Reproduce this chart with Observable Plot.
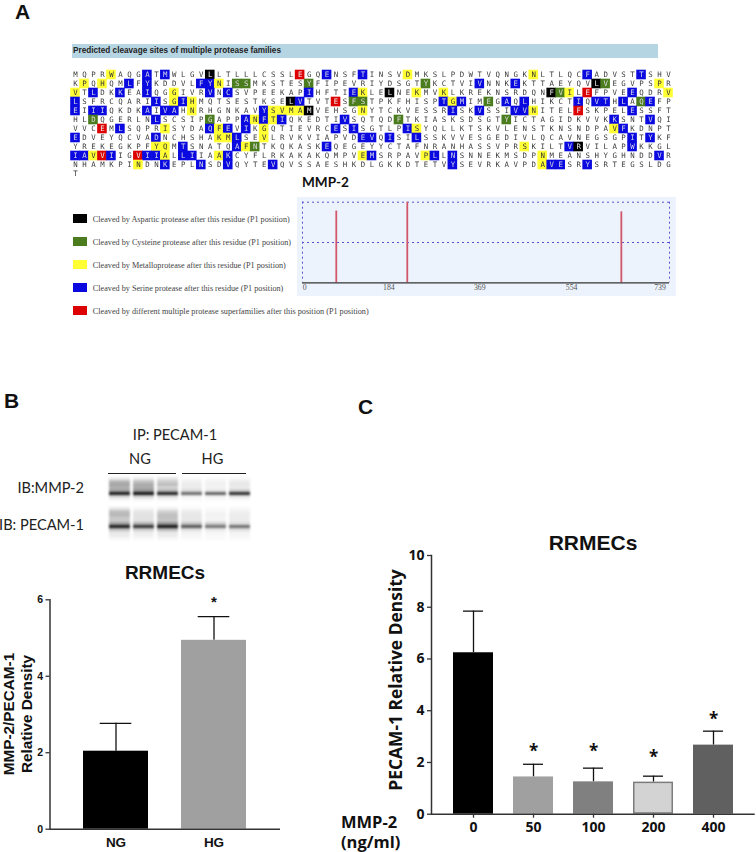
<!DOCTYPE html>
<html><head><meta charset="utf-8">
<script src="https://cdn.jsdelivr.net/npm/d3@7"></script>
<script src="https://cdn.jsdelivr.net/npm/@observablehq/plot@0.6"></script>
<style>
html,body{margin:0;padding:0;background:#fff}
#page{position:relative;width:756px;height:852px;overflow:hidden;background:#fff}
#page svg{position:absolute;background:transparent;overflow:visible}
.t{position:absolute;white-space:nowrap;line-height:1}
</style></head><body><div id="page"></div>
<script>
// ---- Panel A: sequence
const sequenceRows = [
"MQPRWAQGATMWLGVLLTLLLCSSLEGQENSFTINSVDMKSLPDWTVQNGKNLTLQCFADVSTTSHV",
"KPQHQMLFYKDDVLFYNISSMKSTESYFIPEVRIYDSGTYKCTVIVNNKEKTTAEYQVLVEGVPSPR",
"VTLDKKEAIQGGIVRVNCSVPEEKAPIHFTIEKLELNEKMVKLKREKNSRDQNFVILEFPVEEQDRV",
"LSFRCQARIISGIHMQTSESTKSELVTVTESFSTPKFHISPTGMIMEGAQLHIKCTIQVTHLAQEFP",
"EIIIQKDKAIVAHNRHGNKAVYSVMAMVEHSGNYTCKVESSRISKVSSIVVNITELFSKPELESSFT",
"HLDQGERLNLSCSIPGAPPANFTIQKEDTIVSQTQDFTKIASKSDSGTYICTAGIDKVVKKSNTVQI",
"VVCEMLSQPRISYDAQFEVIKGQTIEVRCESISGTLPISYQLLKTSKVLENSTKNSNDPAVFKDNPT",
"EDVEYQCVADNCHSHAKMLSEVLRVKVIAPVDEVQISILSSKVVESGEDIVLQCAVNEGSGPITYKF",
"YREKEGKPFYQMTSNATQAFNTKQKASKEQEGEYYCTAFNRANHASSVPRSKILTVRVILAPWKKGL",
"IAVVIIGVIIALLIIAAKCYFLRKAKAKQMPVEMSRPAVPLLNSNNEKMSDPNMEANSHYGHNDDVR",
"NHAMKPINDNKEPLNSDVQYTEVQVSSAESHKDLGKKDTETVYSEVRKAVPDAVESRYSRTEGSLDG",
"T"];
// cleaved residues per row, by protease family
const aspartic = [[15],[58],[35,53],[24],[26],[],[],[],[56],[],[],[]];
const cysteine = [[],[18,19,26,39,59],[54],[31,32,46,63],[],[2,15,36,48],[],[],[20],[],[],[]];
const metallo  = [[4,37,51],[1,3,16,65],[0,11,32,38,41,55,66],[11,13,42],[13,22,23,24,25,32,51],[20,22],[10,16,21,38,60],[16,17,21],[9,10,19,50],[2,10,16,32,39,52],[7,52],[]];
const serine   = [[8,10,28,32,57,63],[6,8,14,15,45,49],[2,5,8,15,17,26,31,62],[0,9,12,25,41,43,48,50,56,58,59,61,64],[0,2,3,8,10,11,21,42,45,49,50,62],[9,19,21,23,30,60,64],[5,15,17,19,29,31,37,61],[0,9,18,32,33,35,38,62,64],[12,18,28,55,62],[0,1,4,8,9,12,13,17,33,40,42,65],[10,14,17,22,42,53,54,57],[]];
const multiple = [[25],[],[57],[29],[56],[],[3],[],[],[3,7],[],[]];

const familyNames = ["Aspartic","Cysteine","Metallo","Serine","Multiple"];
const familyHits = [aspartic,cysteine,metallo,serine,multiple];
const familyColors = ["#000000","#4b7d1e","#ffff33","#0a0ae0","#dc0000"];
const familyInk = ["#eeeeee","#dddddd","#333333","#d8d8e8","#eeeeee"];
const legendLabels = [
"Cleaved by Aspartic protease after this residue (P1 position)",
"Cleaved by Cysteine protease after this residue (P1 position)",
"Cleaved by Metalloprotease after this residue (P1 position)",
"Cleaved by Serine protease after this residue (P1 position)",
"Cleaved by different multiple protease superfamilies after this position (P1 position)"];

// ---- Panel A: MMP-2 lane
const siteResidues = [68,211,642];
const siteHeights = [1.78,2,1.76];
const laneTicks = [0,184,369,554,739];

// ---- Panel B: blots
const laneIds = [1,2,3,4,5,6];
const blotMMP2 = [
[.08,.08,.10,.02,.02,.03],
[.30,.25,.20,.06,.05,.08],
[.38,.35,.28,.08,.06,.10],
[.32,.35,.18,.08,.05,.08],
[.40,.45,.30,.15,.10,.20],
[.95,.98,.92,.62,.65,.88],
[.18,.20,.15,.06,.06,.12],
[.04,.04,.04,.02,.02,.02]];
const blotPECAM = [
[.10,.04,.06,.03,.02,.03],
[.26,.10,.18,.08,.04,.06],
[.30,.12,.26,.10,.06,.08],
[.24,.12,.26,.10,.05,.08],
[.22,.12,.24,.10,.05,.08],
[.40,.32,.45,.25,.20,.15],
[.95,.85,.98,.70,.58,.60],
[.28,.22,.30,.14,.10,.14],
[.10,.08,.10,.05,.04,.05],
[.08,.06,.08,.04,.03,.04],
[.04,.03,.04,.02,.02,.02]];

// ---- Panel B: bars
const groupsB = ["NG","HG"];
const meansB = [2.04,4.94];
const errTopB = [2.77,5.56];
const colorsB = ["#000000","#a0a0a0"];
const starsB = [null,5.98];

// ---- Panel C: bars
const dosesC = ["0","50","100","200","400"];
const meansC = [6.24,1.44,1.25,1.24,2.67];
const errTopC = [7.85,1.93,1.78,1.47,3.21];
const colorsC = ["#000000","#a0a0a0","#808080","#d3d3d3","#606060"];
const strokesC = ["#000000","#a0a0a0","#808080","#7c7c7c","#606060"];
const starsC = [null,2.5,2.49,2.27,3.75];

const page = document.getElementById("page");
function place(svg,left,top){svg.style.left=left+"px";svg.style.top=top+"px";page.appendChild(svg);return svg;}
function label(text,x,y,css,anchor){
  const d=document.createElement("div");d.className="t";d.textContent=text;d.style.cssText+=css;
  d.style.left=x+"px";d.style.top=y+"px";
  d.style.transform=`translate(${anchor==="end"?"-100%":anchor==="middle"?"-50%":"0"},-50%)`;
  page.appendChild(d);return d;
}
const ARIAL="font-family:'Liberation Sans';font-weight:bold;";
const LATO="font-family:Lato;";
const OPEN="font-family:'Open Sans';font-weight:bold;";

// panel letters
label("A",15,11,ARIAL+"font-size:21px;color:#111");
label("B",4,400,ARIAL+"font-size:21px;color:#111");
label("C",358,406,ARIAL+"font-size:21px;color:#111");

// header bar
const bar=document.createElement("div");
bar.style.cssText="position:absolute;left:72px;top:44px;width:586px;height:14px;background:#b6d5e3";
page.appendChild(bar);
label("Predicted cleavage sites of multiple protease families",73,51,"font-family:'Liberation Sans';font-weight:bold;font-size:8.2px;color:#222");

// sequence table
const hit = new Map();
familyHits.forEach((fam,f)=>fam.forEach((cols,r)=>cols.forEach(c=>hit.set(r+":"+c,f))));
const residues = sequenceRows.flatMap((s,r)=>Array.from(s,(ch,c)=>({r,c,ch,f:hit.get(r+":"+c)})));
place(Plot.plot({
  width:756,height:112,marginLeft:70.5,marginRight:83.5,marginTop:0,marginBottom:0,
  x:{type:"band",domain:d3.range(67),padding:0,axis:null},
  y:{type:"band",domain:d3.range(12),padding:0,axis:null},
  color:{type:"identity"},
  marks:[
    Plot.cell(residues.filter(d=>d.f!==undefined),{x:"c",y:"r",fill:d=>familyColors[d.f],inset:-0.3,imageFilter:"blur(.3px)"}),
    Plot.text(residues,{x:"c",y:"r",text:"ch",fill:d=>d.f===undefined?"#3a3a3a":familyInk[d.f],fontFamily:"DejaVu Sans Mono",fontSize:7.4,imageFilter:"blur(.25px)"})
  ]
}),0,68);

// MMP-2 title
label("MMP-2",302,183,LATO+"font-weight:bold;font-size:13.6px;color:#111");

// legend
const legendData = familyNames.map((n,i)=>({n,label:legendLabels[i],color:familyColors[i],s:"swatch"}));
place(Plot.plot({
  width:310,height:130.5,marginLeft:0,marginRight:296,marginTop:0,marginBottom:0,
  x:{type:"band",domain:["swatch"],padding:0,axis:null},
  y:{type:"band",domain:familyNames,axis:null,padding:.613},
  color:{type:"identity"},
  marks:[
    Plot.cell(legendData,{x:"s",y:"n",fill:"color"}),
    Plot.text(legendData,{y:"n",frameAnchor:"left",dx:19.3,textAnchor:"start",text:"label",fill:"#444",fontFamily:"Liberation Serif",fontSize:8.2})
  ]
}),72.7,199);

// lane plot
const sites = siteResidues.map((x,i)=>({x,h:siteHeights[i]}));
const laneTickDx = [2.3,-5,-6,-6,-9.5];
const dash={stroke:"#5a50d0",strokeDasharray:"2,3",strokeWidth:1};
const lane = Plot.plot({
  width:379,height:99,marginLeft:5,marginRight:7,marginTop:4.7,marginBottom:13.7,
  x:{domain:[0,739],axis:null},
  y:{domain:[0,2],axis:null},
  marks:[
    Plot.ruleX([0,739],{...dash}),
    Plot.ruleY([1,2],{...dash}),
    Plot.ruleX(sites,{x:"x",y1:0,y2:"h",stroke:"#d2566a",strokeWidth:1.8}),
    Plot.ruleY([0],{stroke:"#333",strokeWidth:1.3}),
    ...laneTicks.map((t,i)=>Plot.text([t],{x:d=>d,frameAnchor:"bottom",lineAnchor:"middle",dy:4.8,dx:laneTickDx[i],text:d=>String(d),fill:"#555",fontFamily:"Liberation Serif",fontSize:7.8}))
  ]
});
place(lane,297,197); lane.style.background="#edf3fd";

// blot labels
label("IP: PECAM-1",175,435,LATO+"font-size:14.6px;color:#222","middle");
label("NG",140,459,LATO+"font-size:14.6px;color:#222","middle");
label("HG",212.5,459,LATO+"font-size:14.6px;color:#222","middle");
label("IB:MMP-2",84,488,LATO+"font-size:14.6px;color:#222","end");
label("IB: PECAM-1",84,525,LATO+"font-size:14.6px;color:#222","end");
const rule1=document.createElement("div");rule1.style.cssText="position:absolute;left:108px;top:473px;width:68px;height:1px;background:#222";page.appendChild(rule1);
const rule2=document.createElement("div");rule2.style.cssText="position:absolute;left:182px;top:473px;width:64px;height:1px;background:#222";page.appendChild(rule2);

function blot(matrix,top){
  const cells = matrix.flatMap((row,r)=>row.map((o,l)=>({r,lane:laneIds[l],o})));
  return place(Plot.plot({
    width:150,height:matrix.length*3,margin:0,
    x:{type:"band",domain:laneIds,padding:.14,axis:null},
    y:{type:"band",domain:d3.range(matrix.length),padding:0,axis:null},
    marks:[Plot.cell(cells,{x:"lane",y:"r",fill:"#111",fillOpacity:"o",imageFilter:"blur(.8px)"})]
  }),104,top);
}
blot(blotMMP2,477);
blot(blotPECAM,507);

// generic bar chart
function barChart(o){
  const data=o.groups.map((g,i)=>({g,m:o.means[i],e:o.errs[i],c:o.colors[i],s:o.strokes?o.strokes[i]:o.colors[i],star:o.stars[i]}));
  return Plot.plot({
    width:o.width,height:o.height,marginLeft:o.ml,marginRight:o.mr,marginTop:o.mt,marginBottom:o.mb,
    style:{fontFamily:o.font,background:"transparent",overflow:"visible"},
    x:{type:"band",domain:o.groups,padding:o.padding,axis:null},
    y:{domain:o.ydomain,axis:null},
    color:{type:"identity"},
    marks:[
      Plot.ruleX(data,{x:"g",y1:"m",y2:"e",stroke:"#111",strokeWidth:1.3}),
      Plot.tickY(data,{x:"g",y:"e",stroke:"#111",strokeWidth:1.3,inset:o.capInset}),
      Plot.barY(data,{x:"g",y:"m",fill:"c",stroke:"s",strokeWidth:1.5,inset:.75}),
      Plot.ruleY([0],{stroke:"#333",strokeWidth:1.5}),
      Plot.frame({anchor:"left",stroke:"#333",strokeWidth:1.5}),
      Plot.axisY({ticks:o.yticks,tickSize:4,label:null,stroke:"#333",strokeWidth:1.3,fontWeight:"bold",fontSize:o.ytickSize,tickFormat:d=>String(d),fill:"#111",tickPadding:3}),
      Plot.axisX({tickSize:o.xtick,label:null,stroke:"#333",strokeWidth:1.3,fontWeight:"bold",fontSize:o.xtickLabel,fill:"#111",tickPadding:o.xpad}),
      Plot.text(data.filter(d=>d.star!=null),{x:"g",y:"star",text:()=>"*",fontSize:o.starSize,fontWeight:"bold",fill:"#111",dy:o.stardy})
    ]
  });
}

// Panel B chart
label("RRMECs",165,572,ARIAL+"font-size:19px;color:#111","middle");
place(barChart({groups:groupsB,means:meansB,errs:errTopB,colors:colorsB,stars:starsB,
  width:290,height:270,ml:49.5,mr:10,mt:9.3,mb:31.3,padding:.336,ydomain:[0,6],yticks:[0,2,4,6],
  ytickSize:10.5,xtick:0,xtickLabel:13.5,xpad:8,capInset:16.7,starSize:15,stardy:2,font:"'Liberation Sans'"}),0,590);
const yb=label("MMP-2/PECAM-1",9,714,ARIAL+"font-size:15.3px;color:#111","middle");
yb.style.transform="translate(-50%,-50%) rotate(-90deg)";
const yb2=label("Relative Density",27,714,ARIAL+"font-size:15.3px;color:#111","middle");
yb2.style.transform="translate(-50%,-50%) rotate(-90deg)";

// Panel C chart
label("RRMECs",593,542,ARIAL+"font-size:21px;color:#111","middle");
place(barChart({groups:dosesC,means:meansC,errs:errTopC,colors:colorsC,strokes:strokesC,stars:starsC,
  width:756-360,height:300,ml:71,mr:1.3,mt:10,mb:31.3,padding:.333,ydomain:[0,10],yticks:[0,2,4,6,8,10],
  ytickSize:14,xtick:4,xtickLabel:14,xpad:4,capInset:10,starSize:17,stardy:2,font:"'Open Sans'"}),360,545);
const yc=label("PECAM-1 Relative Density",396,680,OPEN+"font-size:17.4px;color:#111","middle");
yc.style.transform="translate(-50%,-50%) rotate(-90deg)";
label("MMP-2",341,822,OPEN+"font-size:16.5px;color:#111");
label("(ng/ml)",341,842,OPEN+"font-size:16.5px;color:#111");
</script></body></html>
